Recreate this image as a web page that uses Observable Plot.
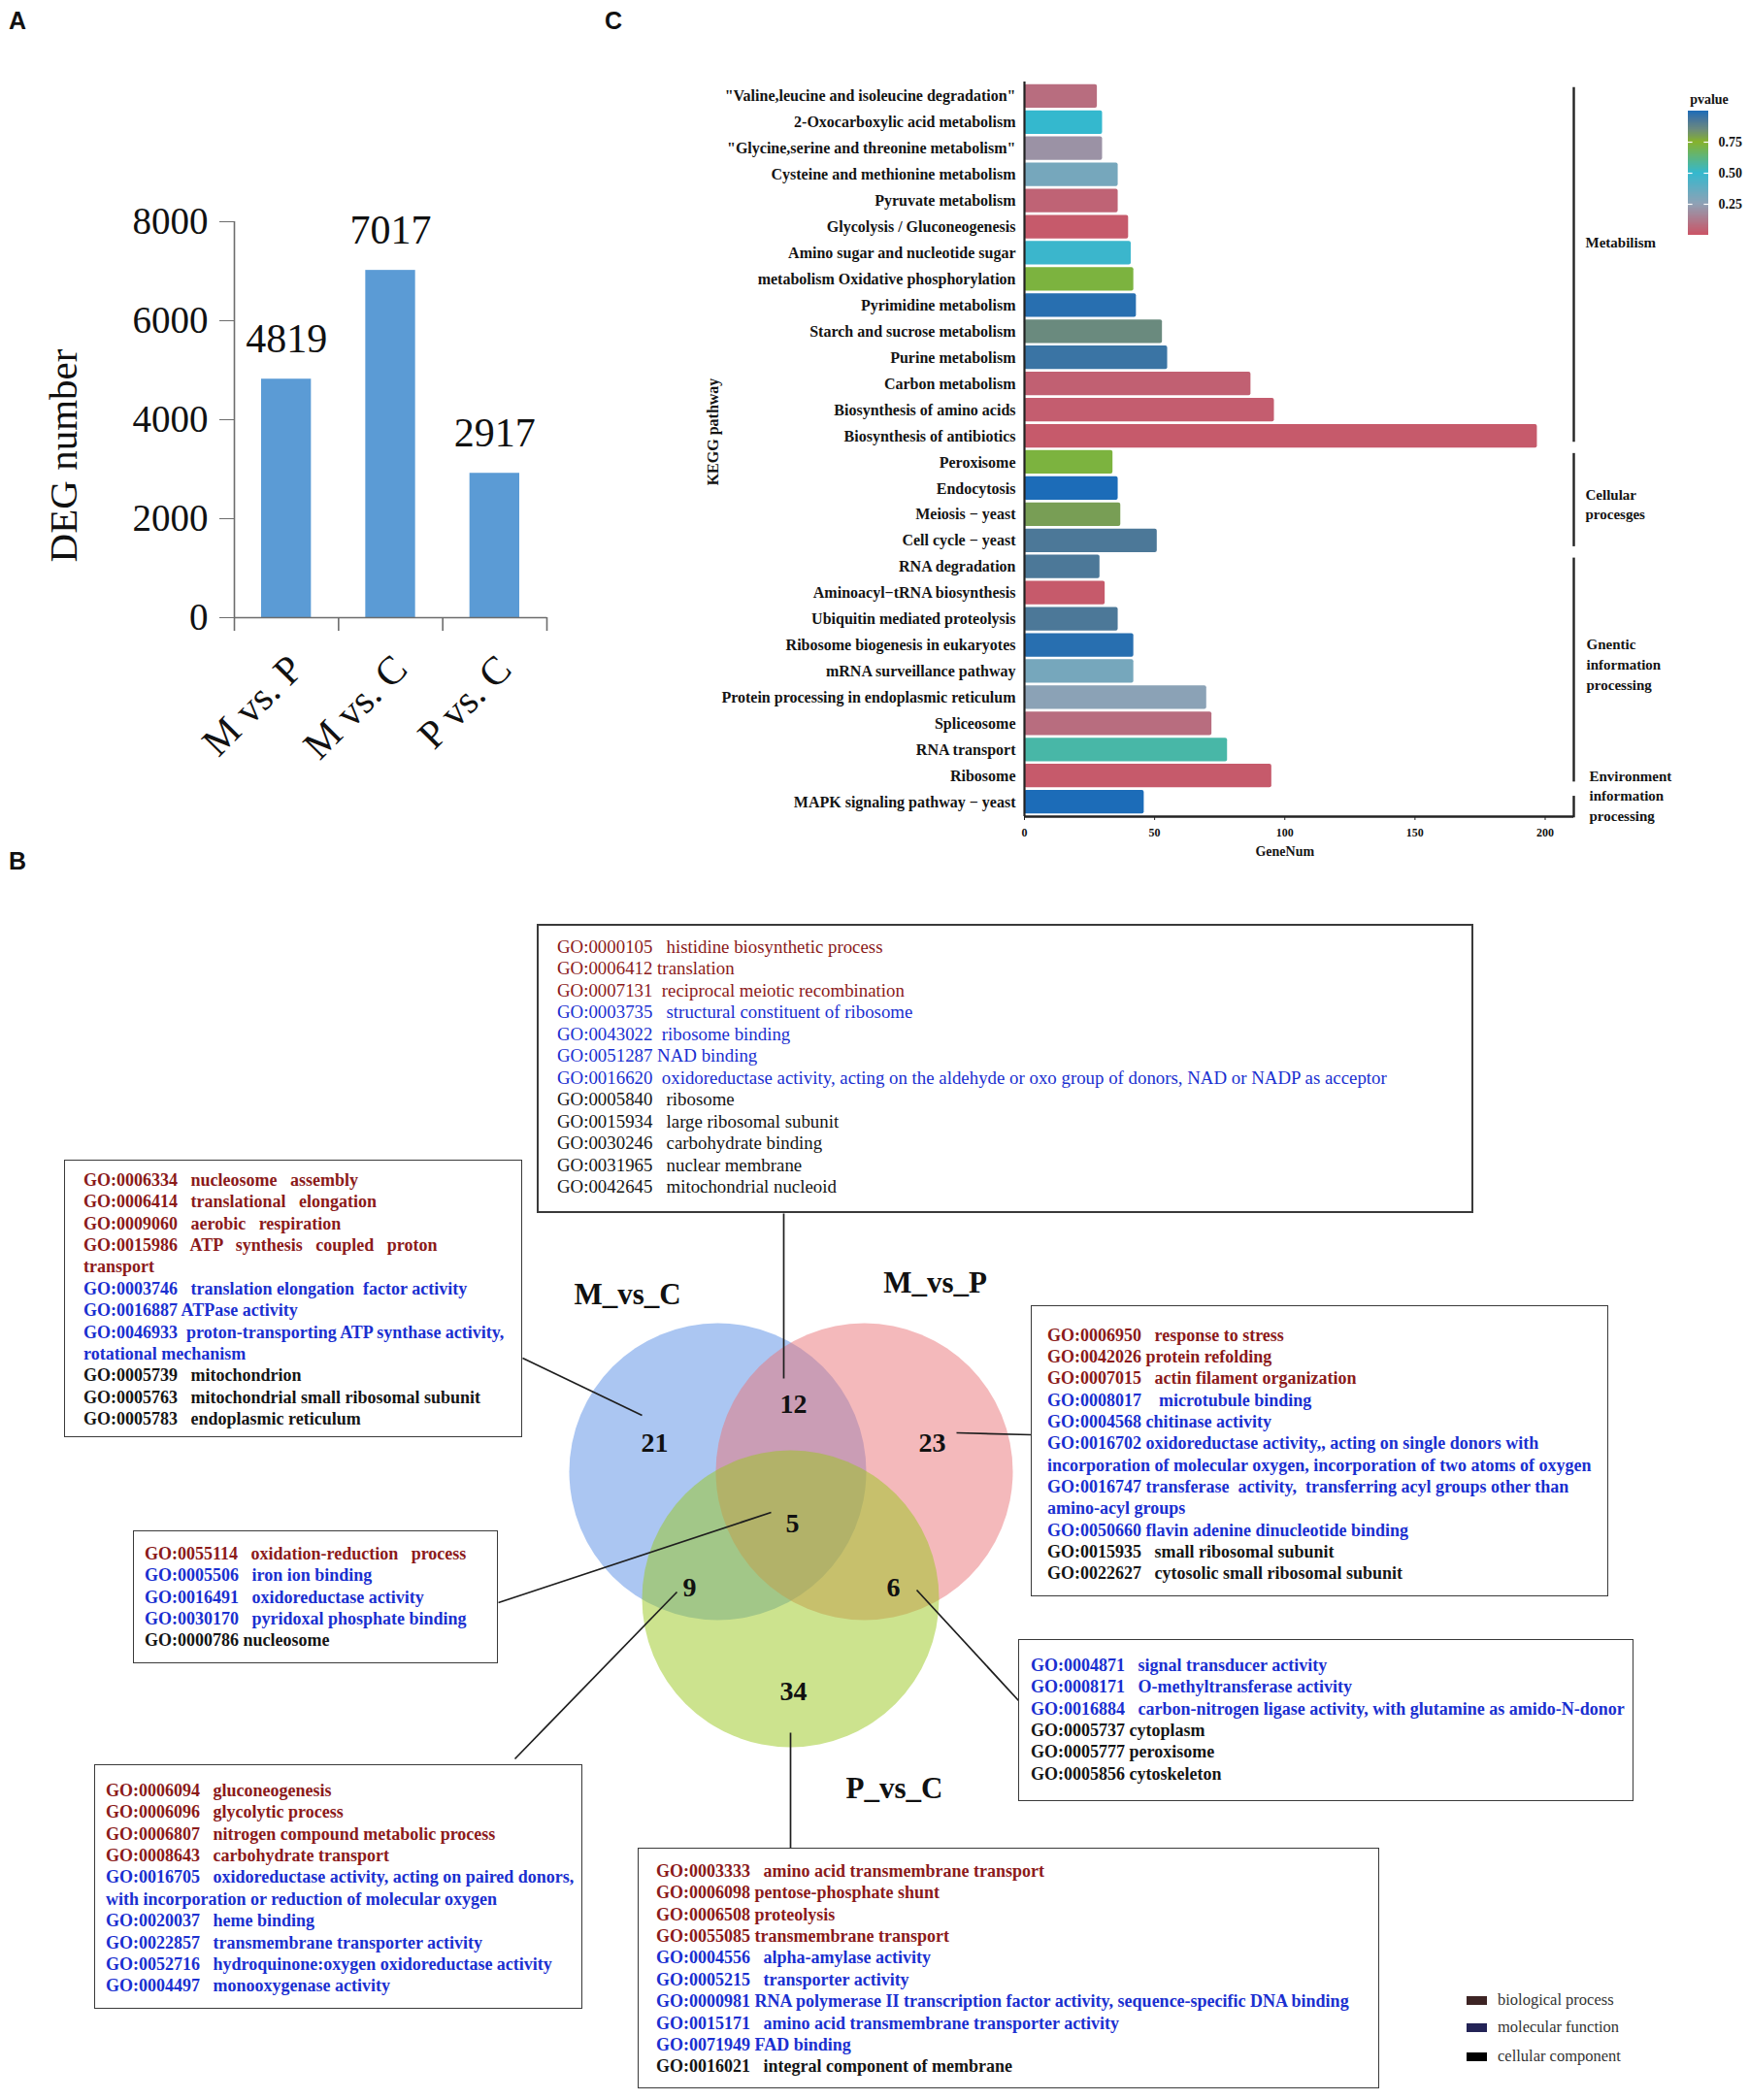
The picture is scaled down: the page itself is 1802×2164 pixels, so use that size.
<!DOCTYPE html>
<html><head><meta charset="utf-8">
<script src="https://cdn.jsdelivr.net/npm/d3@7"></script>
<script src="https://cdn.jsdelivr.net/npm/@observablehq/plot@0.6"></script>
<style>
html,body{margin:0;padding:0;background:#fff;}
#page{position:relative;width:1802px;height:2164px;overflow:hidden;background:#fff;font-family:"Liberation Serif",serif;}
.plabel{position:absolute;font-family:"Liberation Sans",Arial,sans-serif;font-weight:bold;font-size:25px;line-height:1;color:#111;}
.gobox{position:absolute;box-sizing:border-box;border:1.6px solid #3a3a3a;}
.goline{position:absolute;white-space:pre;font-family:"Liberation Serif",serif;}
.legrow{position:absolute;white-space:pre;font-family:"Liberation Serif",serif;font-size:16.5px;color:#333;}
.legsw{position:absolute;width:21px;height:9px;}
</style></head>
<body><div id="page"></div>
<script>
// ---------------- DATA ----------------
// Panel A
const degComparisons = ["M vs. P", "M vs. C", "P vs. C"];
const degCounts = [4819, 7017, 2917];
const degTicks = [0, 2000, 4000, 6000, 8000];

// Panel C
const keggPathways = [
  "\"Valine,leucine and isoleucine degradation\"",
  "2-Oxocarboxylic acid metabolism",
  "\"Glycine,serine and threonine metabolism\"",
  "Cysteine and methionine metabolism",
  "Pyruvate metabolism",
  "Glycolysis / Gluconeogenesis",
  "Amino sugar and nucleotide sugar",
  "metabolism Oxidative phosphorylation",
  "Pyrimidine metabolism",
  "Starch and sucrose metabolism",
  "Purine metabolism",
  "Carbon metabolism",
  "Biosynthesis of amino acids",
  "Biosynthesis of antibiotics",
  "Peroxisome",
  "Endocytosis",
  "Meiosis \u2212 yeast",
  "Cell cycle \u2212 yeast",
  "RNA degradation",
  "Aminoacyl\u2212tRNA biosynthesis",
  "Ubiquitin mediated proteolysis",
  "Ribosome biogenesis in eukaryotes",
  "mRNA surveillance pathway",
  "Protein processing in endoplasmic reticulum",
  "Spliceosome",
  "RNA transport",
  "Ribosome",
  "MAPK signaling pathway \u2212 yeast"
];
const keggGeneNum = [28, 30, 30, 36, 36, 40, 41, 42, 43, 53, 55, 87, 96, 197, 34, 36, 37, 51, 29, 31, 36, 42, 42, 70, 72, 78, 95, 46];
const keggPvalue = [0.08, 0.5, 0.2, 0.32, 0.05, 0.02, 0.48, 0.72, 0.98, 0.85, 0.95, 0.04, 0.03, 0.02, 0.72, 1.0, 0.8, 0.92, 0.92, 0.02, 0.92, 0.98, 0.32, 0.26, 0.08, 0.56, 0.02, 1.0];
const keggGroupNames = ["Metabilism", "Cellular\nprocesges", "Gnentic\ninformation\nprocessing", "Environment\ninformation\nprocessing"];
const keggGroupFirst = ["\"Valine,leucine and isoleucine degradation\"", "Peroxisome", "RNA degradation", "MAPK signaling pathway \u2212 yeast"];
const keggGroupLast = ["Biosynthesis of antibiotics", "Cell cycle \u2212 yeast", "Ribosome", "MAPK signaling pathway \u2212 yeast"];
const geneNumTicks = [0, 50, 100, 150, 200];
const pvalueTicks = [0.25, 0.5, 0.75];

// Panel B (Venn)
const vennSets = ["M_vs_C", "M_vs_P", "P_vs_C"];
const vennRegions = ["M_vs_C only", "M_vs_C & M_vs_P", "M_vs_P only", "all three", "M_vs_C & P_vs_C", "M_vs_P & P_vs_C", "P_vs_C only"];
const vennCounts = [21, 12, 23, 5, 9, 6, 34];

// GO terms: [ontology, text]
const goMCMP = [
  ["bp","GO:0000105   histidine biosynthetic process"],
  ["bp","GO:0006412 translation"],
  ["bp","GO:0007131  reciprocal meiotic recombination"],
  ["mf","GO:0003735   structural constituent of ribosome"],
  ["mf","GO:0043022  ribosome binding"],
  ["mf","GO:0051287 NAD binding"],
  ["mf","GO:0016620  oxidoreductase activity, acting on the aldehyde or oxo group of donors, NAD or NADP as acceptor"],
  ["cc","GO:0005840   ribosome"],
  ["cc","GO:0015934   large ribosomal subunit"],
  ["cc","GO:0030246   carbohydrate binding"],
  ["cc","GO:0031965   nuclear membrane"],
  ["cc","GO:0042645   mitochondrial nucleoid"]
];
const goMC = [
  ["bp","GO:0006334   nucleosome   assembly"],
  ["bp","GO:0006414   translational   elongation"],
  ["bp","GO:0009060   aerobic   respiration"],
  ["bp","GO:0015986   ATP   synthesis   coupled   proton"],
  ["bp","transport"],
  ["mf","GO:0003746   translation elongation  factor activity"],
  ["mf","GO:0016887 ATPase activity"],
  ["mf","GO:0046933  proton-transporting ATP synthase activity,"],
  ["mf","rotational mechanism"],
  ["cc","GO:0005739   mitochondrion"],
  ["cc","GO:0005763   mitochondrial small ribosomal subunit"],
  ["cc","GO:0005783   endoplasmic reticulum"]
];
const goMP = [
  ["bp","GO:0006950   response to stress"],
  ["bp","GO:0042026 protein refolding"],
  ["bp","GO:0007015   actin filament organization"],
  ["mf","GO:0008017    microtubule binding"],
  ["mf","GO:0004568 chitinase activity"],
  ["mf","GO:0016702 oxidoreductase activity,, acting on single donors with"],
  ["mf","incorporation of molecular oxygen, incorporation of two atoms of oxygen"],
  ["mf","GO:0016747 transferase  activity,  transferring acyl groups other than"],
  ["mf","amino-acyl groups"],
  ["mf","GO:0050660 flavin adenine dinucleotide binding"],
  ["cc","GO:0015935   small ribosomal subunit"],
  ["cc","GO:0022627   cytosolic small ribosomal subunit"]
];
const goAll = [
  ["bp","GO:0055114   oxidation-reduction   process"],
  ["mf","GO:0005506   iron ion binding"],
  ["mf","GO:0016491   oxidoreductase activity"],
  ["mf","GO:0030170   pyridoxal phosphate binding"],
  ["cc","GO:0000786 nucleosome"]
];
const goMPPC = [
  ["mf","GO:0004871   signal transducer activity"],
  ["mf","GO:0008171   O-methyltransferase activity"],
  ["mf","GO:0016884   carbon-nitrogen ligase activity, with glutamine as amido-N-donor"],
  ["cc","GO:0005737 cytoplasm"],
  ["cc","GO:0005777 peroxisome"],
  ["cc","GO:0005856 cytoskeleton"]
];
const goMCPC = [
  ["bp","GO:0006094   gluconeogenesis"],
  ["bp","GO:0006096   glycolytic process"],
  ["bp","GO:0006807   nitrogen compound metabolic process"],
  ["bp","GO:0008643   carbohydrate transport"],
  ["mf","GO:0016705   oxidoreductase activity, acting on paired donors,"],
  ["mf","with incorporation or reduction of molecular oxygen"],
  ["mf","GO:0020037   heme binding"],
  ["mf","GO:0022857   transmembrane transporter activity"],
  ["mf","GO:0052716   hydroquinone:oxygen oxidoreductase activity"],
  ["mf","GO:0004497   monooxygenase activity"]
];
const goPC = [
  ["bp","GO:0003333   amino acid transmembrane transport"],
  ["bp","GO:0006098 pentose-phosphate shunt"],
  ["bp","GO:0006508 proteolysis"],
  ["bp","GO:0055085 transmembrane transport"],
  ["mf","GO:0004556   alpha-amylase activity"],
  ["mf","GO:0005215   transporter activity"],
  ["mf","GO:0000981 RNA polymerase II transcription factor activity, sequence-specific DNA binding"],
  ["mf","GO:0015171   amino acid transmembrane transporter activity"],
  ["mf","GO:0071949 FAD binding"],
  ["cc","GO:0016021   integral component of membrane"]
];
const goOntologies = ["bp", "mf", "cc"];
const goOntologyNames = ["biological process", "molecular function", "cellular component"];

// ---------------- STYLES / LAYOUT ----------------
const serif = '"Liberation Serif", "Times New Roman", serif';
const goTextColor = {bp: "#8b1a1a", mf: "#1a2fd0", cc: "#151515"};
const goSwatchColor = {bp: "#3d2424", mf: "#232356", cc: "#000000"};
const pvalueColor = {
  type: "linear",
  domain: [0, 0.25, 0.5, 0.75, 0.85, 0.92, 1],
  range: ["#cb5465", "#8fa1b5", "#34b8ce", "#86b22c", "#6a8a7e", "#4c7898", "#1c6cb8"]
};

const page = document.getElementById("page");
function place(el, left, top) {
  el.style.position = "absolute";
  el.style.left = left + "px";
  el.style.top = top + "px";
  page.appendChild(el);
  return el;
}
function panelLabel(t, left, top) {
  const d = document.createElement("div");
  d.className = "plabel";
  d.textContent = t;
  place(d, left, top);
}

// ---------------- PANEL B (drawn first, underneath) ----------------
const vennLayout = {
  circles: [
    {cx: 739, cy: 1516, r: 153, color: "#578de5"},
    {cx: 890, cy: 1516, r: 153, color: "#e97377"},
    {cx: 814, cy: 1647, r: 153, color: "#99c71d"}
  ],
  setLabel: [{x: 646, y: 1334}, {x: 963, y: 1322}, {x: 921, y: 1843}],
  region: [{x: 674, y: 1487}, {x: 817, y: 1447}, {x: 960, y: 1487}, {x: 816, y: 1570}, {x: 710, y: 1636}, {x: 920, y: 1636}, {x: 817, y: 1743}]
};
const leaderLayout = [
  {x1: 807, y1: 1250, x2: 807, y2: 1420},
  {x1: 538, y1: 1399, x2: 661, y2: 1458},
  {x1: 985, y1: 1476, x2: 1062, y2: 1478},
  {x1: 513, y1: 1651, x2: 794, y2: 1558},
  {x1: 530, y1: 1812, x2: 697, y2: 1640},
  {x1: 944, y1: 1638, x2: 1049, y2: 1752},
  {x1: 814, y1: 1785, x2: 814, y2: 1904}
];
const B = {left: 0, top: 880, width: 1802, height: 1284};
const circleData = vennSets.map((s, i) => ({set: s, ...vennLayout.circles[i]}));
const setLabelData = vennSets.map((s, i) => ({set: s, ...vennLayout.setLabel[i]}));
const regionData = vennRegions.map((name, i) => ({name, count: vennCounts[i], ...vennLayout.region[i]}));
const plotB = Plot.plot({
  width: B.width, height: B.height, margin: 0,
  style: {fontFamily: serif, background: "transparent", color: "#111", overflow: "visible"},
  x: {domain: [B.left, B.left + B.width], range: [0, B.width], axis: null},
  y: {domain: [B.top, B.top + B.height], range: [0, B.height], axis: null},
  r: {type: "identity"},
  color: {type: "identity"},
  marks: [
    Plot.dot(circleData, {x: "cx", y: "cy", r: "r", fill: "color", fillOpacity: 0.5, stroke: "none"}),
    Plot.link(leaderLayout, {x1: "x1", y1: "y1", x2: "x2", y2: "y2", stroke: "#1e1e1e", strokeWidth: 1.7}),
    Plot.text(regionData, {x: "x", y: "y", text: d => String(d.count), fontSize: 28, fontWeight: "bold", fill: "#111"}),
    Plot.text(setLabelData, {x: "x", y: "y", text: "set", fontSize: 31, fontWeight: "bold", fill: "#111", lineAnchor: "middle"})
  ]
});
place(plotB, B.left, B.top);

const boxLayout = [
  {lines: goMCMP, x: 553, y: 952, w: 965, h: 298, tx: 574, ty: 976, lh: 22.5, fs: 18.85, fw: "normal", bw: 2.2},
  {lines: goMC, x: 66, y: 1195, w: 472, h: 286, tx: 86, ty: 1216, lh: 22.4, fs: 18, fw: "bold", bw: 1.6},
  {lines: goMP, x: 1062, y: 1345, w: 595, h: 300, tx: 1079, ty: 1376, lh: 22.3, fs: 18, fw: "bold", bw: 1.6},
  {lines: goAll, x: 137, y: 1577, w: 376, h: 137, tx: 149, ty: 1601, lh: 22.4, fs: 18, fw: "bold", bw: 1.6},
  {lines: goMPPC, x: 1049, y: 1689, w: 634, h: 167, tx: 1062, ty: 1716, lh: 22.4, fs: 18, fw: "bold", bw: 1.6},
  {lines: goMCPC, x: 97, y: 1818, w: 503, h: 252, tx: 109, ty: 1845, lh: 22.4, fs: 18, fw: "bold", bw: 1.6},
  {lines: goPC, x: 657, y: 1904, w: 764, h: 248, tx: 676, ty: 1928, lh: 22.4, fs: 18, fw: "bold", bw: 1.6}
];
for (const L of boxLayout) {
  const box = document.createElement("div");
  box.className = "gobox";
  box.style.width = L.w + "px";
  box.style.height = L.h + "px";
  box.style.borderWidth = L.bw + "px";
  place(box, L.x, L.y);
  L.lines.forEach(([ont, text], i) => {
    const d = document.createElement("div");
    d.className = "goline";
    d.textContent = text;
    d.style.lineHeight = L.lh + "px";
    d.style.fontSize = L.fs + "px";
    d.style.fontWeight = L.fw;
    d.style.color = goTextColor[ont];
    place(d, L.tx, L.ty - L.lh / 2 + i * L.lh);
  });
}
// ontology legend (bottom right)
const ontLegendLayout = {sx: 1511, tx: 1543, y: [2061, 2089, 2119]};
goOntologies.forEach((o, i) => {
  const sw = document.createElement("div");
  sw.className = "legsw";
  sw.style.background = goSwatchColor[o];
  place(sw, ontLegendLayout.sx, ontLegendLayout.y[i] - 4.5);
  const t = document.createElement("div");
  t.className = "legrow";
  t.textContent = goOntologyNames[i];
  t.style.lineHeight = "20px";
  place(t, ontLegendLayout.tx, ontLegendLayout.y[i] - 10);
});

// ---------------- PANEL A ----------------
const A = {left: 0, top: 0, width: 600, height: 830, ml: 241, mr: 37, mt: 228, mb: 194};
const aStep = (A.width - A.ml - A.mr) / degComparisons.length;
const aData = degComparisons.map((c, i) => ({c, n: degCounts[i]}));
const axisGrey = "#6d6d6d";
const plotA = Plot.plot({
  width: A.width, height: A.height,
  marginLeft: A.ml, marginRight: A.mr, marginTop: A.mt, marginBottom: A.mb,
  style: {fontFamily: serif, background: "transparent", color: "#111", overflow: "visible"},
  x: {domain: degComparisons, padding: 0, round: false, axis: null},
  y: {domain: [0, 8000]},
  marks: [
    Plot.barY(aData, {x: "c", y: "n", fill: "#5b9bd5", insetLeft: 28, insetRight: 28}),
    Plot.ruleY([0], {stroke: axisGrey, strokeWidth: 1.6}),
    Plot.ruleX([degComparisons[0]], {x: d => d, y1: 8000, y2: 0, dx: -aStep / 2, stroke: axisGrey, strokeWidth: 1.6}),
    Plot.ruleX(degComparisons, {x: d => d, y1: 0, y2: 0, dx: -aStep / 2, insetBottom: -14, stroke: axisGrey, strokeWidth: 1.6}),
    Plot.ruleX([degComparisons[degComparisons.length - 1]], {x: d => d, y1: 0, y2: 0, dx: aStep / 2, insetBottom: -14, stroke: axisGrey, strokeWidth: 1.6}),
    Plot.axisY({ticks: degTicks, tickSize: 15, tickPadding: 12, fontSize: 39, tickFormat: d => String(d), label: null, stroke: axisGrey}),
    Plot.text(aData, {x: "c", y: "n", text: d => String(d.n), dy: -28, lineAnchor: "bottom", fontSize: 42}),
    Plot.text(degComparisons, {x: d => d, y: () => 0, text: d => d, rotate: -45, textAnchor: "end", lineAnchor: "middle", dx: 10, dy: 46, fontSize: 41}),
    Plot.text(["DEG number"], {frameAnchor: "left", text: d => d, textAnchor: "middle", rotate: -90, dx: -176, dy: 37, fontSize: 41})
  ]
});
place(plotA, A.left, A.top);

// ---------------- PANEL C ----------------
const C = {left: 620, top: 40, width: 1182, height: 860, ml: 435, mr: 181, mt: 44, mb: 59};
const xMax = 211;
const cStep = (C.height - C.mt - C.mb) / (keggPathways.length + 0.1);
const cData = keggPathways.map((name, i) => ({name, n: keggGeneNum[i], p: keggPvalue[i]}));
const groupData = keggGroupNames.map((label, i) => ({label, first: keggGroupFirst[i], last: keggGroupLast[i]}));
const groupLabelLayout = [
  {anchor: "Glycolysis / Gluconeogenesis", dy: 14, dx: 12},
  {anchor: "Endocytosis", dy: 15, dx: 12},
  {anchor: "Ribosome biogenesis in eukaryotes", dy: 18.5, dx: 13},
  {anchor: "MAPK signaling pathway \u2212 yeast", dy: -8, dx: 16}
];
const darkLine = "#232323";
const plotC = Plot.plot({
  width: C.width, height: C.height,
  marginLeft: C.ml, marginRight: C.mr, marginTop: C.mt, marginBottom: C.mb,
  style: {fontFamily: serif, fontWeight: "bold", background: "transparent", color: "#141414", overflow: "visible"},
  x: {domain: [0, xMax]},
  y: {domain: keggPathways, padding: 0.1, round: false},
  color: pvalueColor,
  marks: [
    Plot.barX(cData, {x: "n", y: "name", fill: "p", rx: 2}),
    Plot.ruleX([0], {stroke: darkLine, strokeWidth: 2.2}),
    Plot.ruleY([keggPathways[keggPathways.length - 1]], {y: d => d, x1: 0, x2: xMax, dy: 0.55 * cStep, stroke: darkLine, strokeWidth: 2.6}),
    Plot.ruleX(groupData.slice(0, 3), {x: () => xMax, y1: "first", y2: "last", insetTop: 3, insetBottom: 6, stroke: darkLine, strokeWidth: 2.4}),
    Plot.ruleX(groupData.slice(3), {x: () => xMax, y1: "first", y2: "last", insetTop: 6, insetBottom: -4, stroke: darkLine, strokeWidth: 2.4}),
    Plot.axisY({tickSize: 0, tickPadding: 9, fontSize: 16, label: null}),
    Plot.axisX({ticks: geneNumTicks, tickSize: 4, tickPadding: 8, fontSize: 12, label: null, stroke: darkLine}),
    Plot.text(["GeneNum"], {x: () => 100, frameAnchor: "bottom", text: d => d, dy: 40, fontSize: 14}),
    Plot.text(["KEGG pathway"], {frameAnchor: "left", text: d => d, textAnchor: "middle", rotate: -90, dx: -321, dy: -18, fontSize: 16}),
    ...groupData.map((g, i) => Plot.text([g], {
      x: () => xMax, y: () => groupLabelLayout[i].anchor, text: "label",
      dx: groupLabelLayout[i].dx, dy: groupLabelLayout[i].dy, textAnchor: "start", lineAnchor: "middle", lineHeight: 1.38, fontSize: 15
    }))
  ]
});
place(plotC, C.left, C.top);

// pvalue legend
const LG = {left: 1720, top: 80, width: 82, height: 175, ml: 19, mr: 42, mt: 34, mb: 13};
const ramp = d3.range(0, 1, 0.005);
const plotLegend = Plot.plot({
  width: LG.width, height: LG.height,
  marginLeft: LG.ml, marginRight: LG.mr, marginTop: LG.mt, marginBottom: LG.mb,
  style: {fontFamily: serif, fontWeight: "bold", background: "transparent", color: "#141414", overflow: "visible"},
  x: {domain: [0, 1], axis: null},
  y: {domain: [0, 1]},
  color: pvalueColor,
  marks: [
    Plot.rect(ramp, {x1: 0, x2: 1, y1: d => d, y2: d => Math.min(1, d + 0.007), fill: d => d + 0.0025, shapeRendering: "crispEdges"}),
    Plot.ruleY(pvalueTicks, {x1: 0, x2: 0.22, stroke: "white", strokeWidth: 1.2}),
    Plot.ruleY(pvalueTicks, {x1: 0.78, x2: 1, stroke: "white", strokeWidth: 1.2}),
    Plot.axisY({anchor: "right", ticks: pvalueTicks, tickSize: 0, tickPadding: 10, tickFormat: d3.format(".2f"), fontSize: 14, label: null}),
    Plot.text(["pvalue"], {frameAnchor: "top", text: d => d, dx: 11, dy: -17, fontSize: 14})
  ]
});
place(plotLegend, LG.left, LG.top);

// panel letters
panelLabel("A", 9, 9);
panelLabel("C", 623, 9);
panelLabel("B", 9, 875);
</script></body></html>
